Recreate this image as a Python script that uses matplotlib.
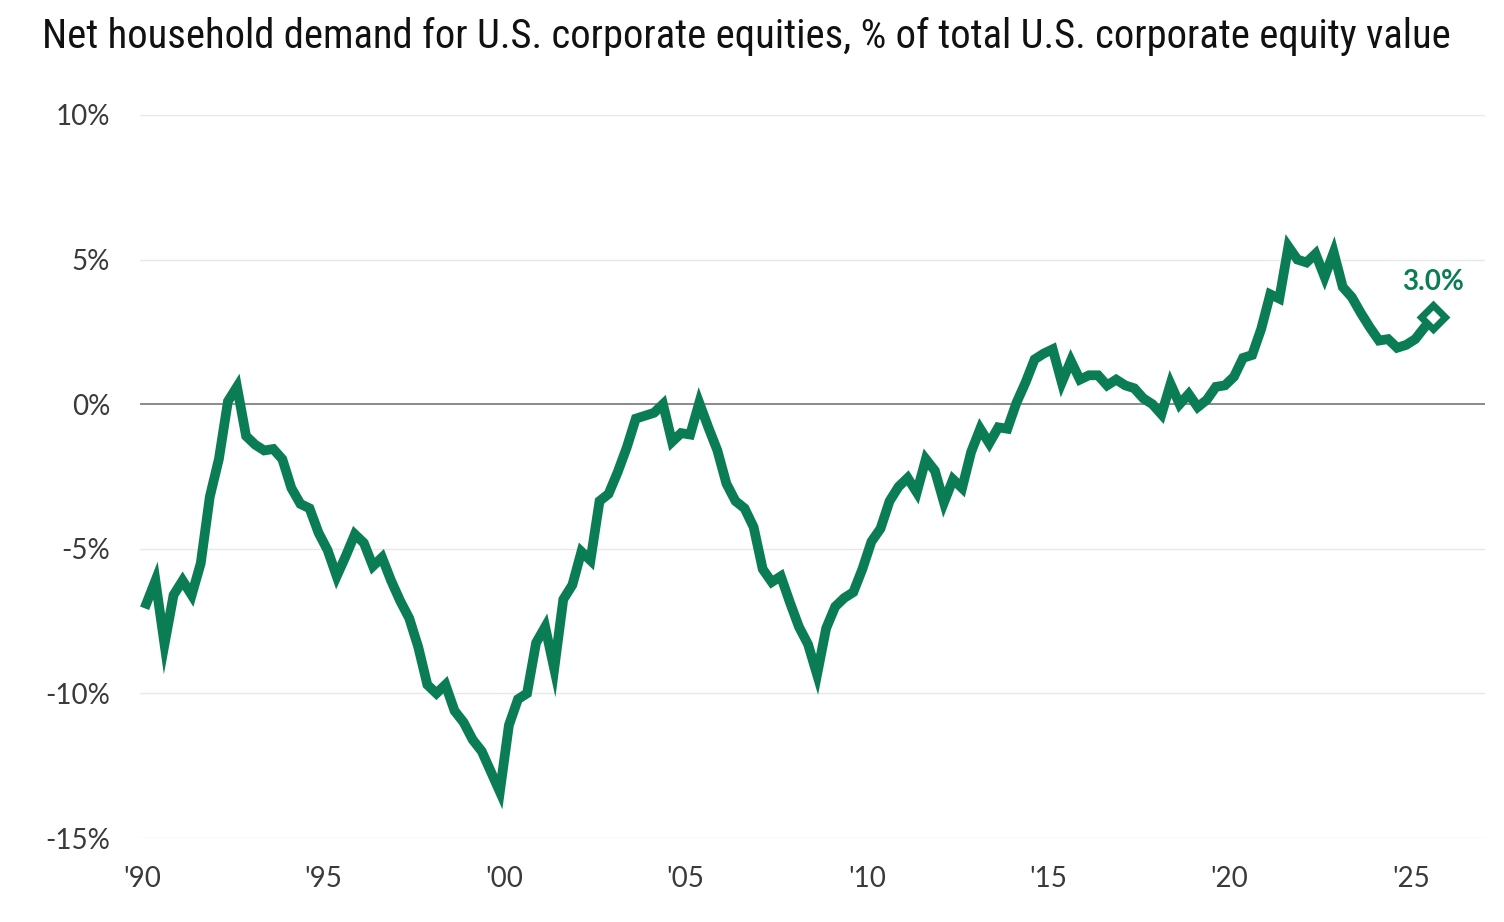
import numpy as np
import pandas as pd
import matplotlib
matplotlib.use('Agg')
import matplotlib.pyplot as plt
from matplotlib import font_manager

# quarterly series, 1990Q1 .. 2025Q3 (percent)
demand = [
    -6.9, -6.1, -8.3, -6.6, -6.1, -6.6, -5.5, -3.2, -1.9, 0.1,
    0.6, -1.1, -1.4, -1.6, -1.55, -1.9, -2.9, -3.45, -3.6, -4.45,
    -5.05, -5.95, -5.25, -4.5, -4.8, -5.6, -5.3, -6.1, -6.8, -7.4,
    -8.4, -9.7, -10.0, -9.7, -10.6, -11.0, -11.6, -12.0, -12.7, -13.4,
    -11.1, -10.2, -10.0, -8.25, -7.7, -9.15, -6.75, -6.25, -5.1, -5.4,
    -3.35, -3.1, -2.35, -1.5, -0.5, -0.4, -0.3, 0.0, -1.3, -1.0,
    -1.05, 0.05, -0.8, -1.6, -2.75, -3.35, -3.6, -4.25, -5.7, -6.15,
    -5.95, -6.85, -7.7, -8.3, -9.35, -7.75, -7.0, -6.7, -6.5, -5.7,
    -4.75, -4.3, -3.35, -2.85, -2.55, -3.05, -1.9, -2.3, -3.4, -2.6,
    -2.9, -1.65, -0.85, -1.35, -0.8, -0.85, 0.05, 0.75, 1.55, 1.75,
    1.9, 0.75, 1.5, 0.85, 1.0, 1.0, 0.65, 0.85, 0.65, 0.55,
    0.2, 0.0, -0.35, 0.7, 0.0, 0.35, -0.1, 0.15, 0.6, 0.65,
    0.95, 1.6, 1.7, 2.6, 3.8, 3.65, 5.45, 5.0, 4.9, 5.2,
    4.4, 5.25, 4.05, 3.7, 3.15, 2.65, 2.2, 2.25, 1.95, 2.05,
    2.25, 2.65, 3.0,
]
quarters = pd.period_range('1990Q1', periods=len(demand), freq='Q')

y_ticks = [10, 5, 0, -5, -10, -15]
y_labels = ['10%', '5%', '0%', '-5%', '-10%', '-15%']
x_ticks = [1990, 1995, 2000, 2005, 2010, 2015, 2020, 2025]
x_labels = ["'90", "'95", "'00", "'05", "'10", "'15", "'20", "'25"]

title = 'Net household demand for U.S. corporate equities, % of total U.S. corporate equity value'
last_label = '3.0%'

# x position = middle of each quarter in decimal years
x = quarters.year + (quarters.quarter - 0.5) / 4.0

# pick a condensed family that has a regular weight, for the title
regular = {f.name for f in font_manager.fontManager.ttflist
           if f.weight in (400, 'normal', 'regular', 'book') and f.style == 'normal'}
title_font = 'Noto Sans'
for cand in ['Roboto Condensed', 'Noto Sans Condensed', 'Open Sans Condensed',
             'Liberation Sans Narrow', 'DejaVu Sans Condensed']:
    if cand in regular:
        title_font = cand
        break
tick_font = 'Lato'

green = '#0a7d55'
text_col = '#3a3a3a'

fig = plt.figure(figsize=(15.04, 9.22), dpi=100)
ax = fig.add_axes([0.0931, 0.0911, 0.8943, 0.7842])

for t in y_ticks:
    if t == 0:
        ax.axhline(0, color='#6b6b6b', lw=1.1, zorder=1)
    else:
        ax.axhline(t, color='#e8e8e8', lw=1.0, zorder=0)

ax.plot(x, demand, color=green, lw=7, solid_joinstyle='miter', zorder=3)
ax.plot(x[-1], demand[-1], marker='D', ms=12, mfc='white', mec=green, mew=5, zorder=4)
ax.annotate(last_label, (x[-1], demand[-1]), xytext=(0, 16), textcoords='offset points',
            ha='center', va='bottom', color=green, fontsize=20, fontweight='bold',
            family=tick_font)

ax.set_xlim(1989.95, 2027.05)
ax.set_ylim(-15, 10)
ax.set_yticks(y_ticks)
ax.set_yticklabels(y_labels)
ax.set_xticks(x_ticks)
ax.set_xticklabels(x_labels)
ax.tick_params(axis='both', length=0, labelsize=20, labelcolor=text_col)
ax.tick_params(axis='y', pad=21.5)
ax.tick_params(axis='x', pad=20)
for lab in ax.get_xticklabels() + ax.get_yticklabels():
    lab.set_family(tick_font)
for s in ax.spines.values():
    s.set_visible(False)

ttl = fig.text(42 / 1504, 1 - 36 / 922, title, ha='left', va='center', fontsize=25,
               family=title_font, color='#111111')
# scale title so it spans the same width as the original
fig.canvas.draw()
w = ttl.get_window_extent().width
ttl.set_fontsize(min(30, 25 * 1413 / w))

fig.savefig('out.png', dpi=100)
